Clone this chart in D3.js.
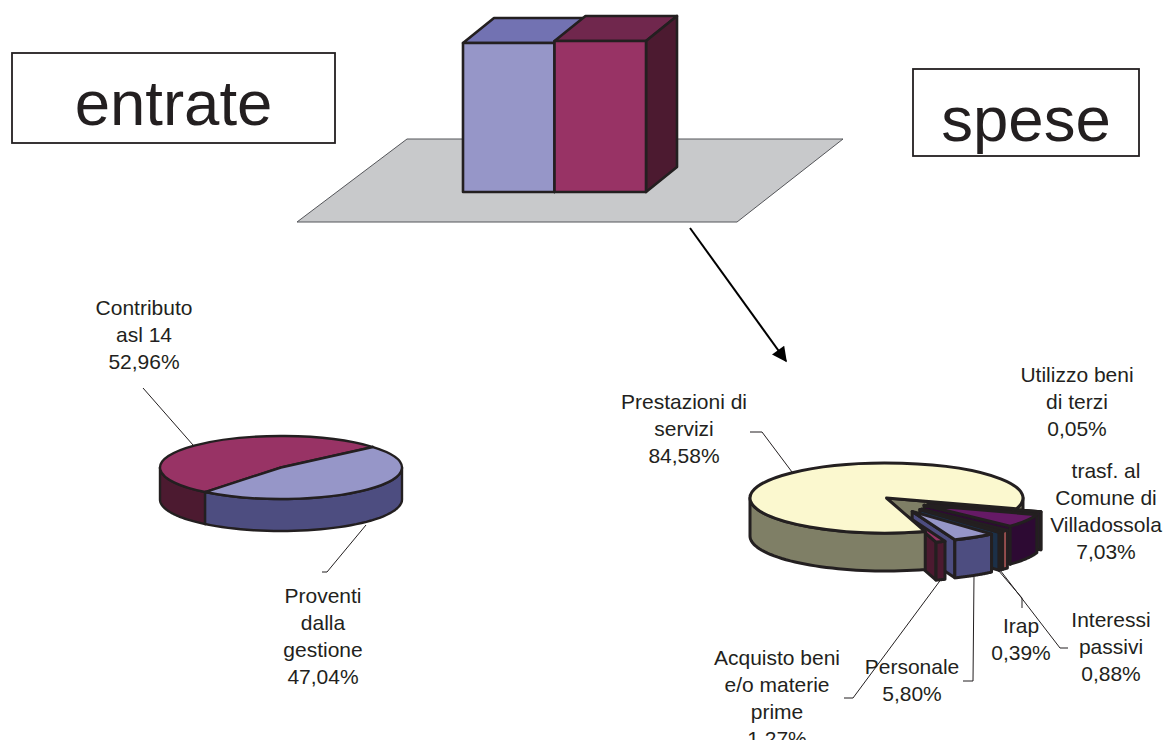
<!DOCTYPE html>
<html>
<head>
<meta charset="utf-8">
<script src="https://cdn.jsdelivr.net/npm/d3@7"></script>
<style>
  html, body { margin: 0; padding: 0; background: #fff; overflow: hidden; }
  text { font-family: "Liberation Sans", Arial, sans-serif; fill: #231f20; }
</style>
</head>
<body>
<div id="chart"></div>
<script>
// data
const barNames = ["entrate", "spese"];
const barValues = [98.7, 100];

const entrateNames = ["Proventi dalla gestione", "Contributo asl 14"];
const entrateValues = [47.04, 52.96];

const speseNames = ["Utilizzo beni di terzi", "trasf. al Comune di Villadossola", "Interessi passivi", "Irap", "Personale", "Acquisto beni e/o materie prime", "Prestazioni di servizi"];
const speseValues = [0.05, 7.03, 0.88, 0.39, 5.80, 1.27, 84.58];

// colours: [top, side]
const entrateColors = [["#9696c8", "#4d4d80"], ["#983365", "#4c1a30"]];
const speseColors = [["#661a66", "#2a1a2a"], ["#661a66", "#2d0a33"], ["#e07a7a", "#a85555"], ["#2a5a80", "#1c3048"], ["#9696c8", "#4d4d80"], ["#983365", "#4c1a30"], ["#fbf8cf", "#7f7f66"]];

const INK = "#231f20";
const rad = d => d * Math.PI / 180;
const pct = d3.formatLocale({ decimal: ",", thousands: ".", grouping: [3], currency: ["", ""] }).format(".2f");

const svg = d3.select("#chart").append("svg")
  .attr("width", 1173)
  .attr("height", 740);

svg.append("defs").append("marker")
  .attr("id", "head")
  .attr("viewBox", "0 0 10 10")
  .attr("refX", 9).attr("refY", 5)
  .attr("markerUnits", "userSpaceOnUse")
  .attr("markerWidth", 17).attr("markerHeight", 15)
  .attr("orient", "auto")
  .append("path").attr("d", "M0,0L10,5L0,10Z").attr("fill", "#000");

// ---- 3d bars on the grey floor
svg.append("polygon")
  .attr("points", "297,222 737,222 843,139 407,139")
  .attr("fill", "#c8c9cb")
  .attr("stroke", "#55565a")
  .attr("stroke-width", 1);

const xBar = d3.scaleBand().domain(barNames).range([463, 646]);
const yBar = d3.scaleLinear().domain([0, 100]).range([192, 41]);
const barDx = 31, barDy = -25;
const barTones = [["#9696c8", "#7272b2", "#4d4d80"], ["#983365", "#70274d", "#4c1a30"]];

const bars = svg.selectAll("g.bar")
  .data(barNames.map((n, i) => ({ name: n, value: barValues[i], tone: barTones[i] })))
  .join("g")
  .attr("class", "bar")
  .attr("stroke", INK)
  .attr("stroke-width", 2.6)
  .attr("stroke-linejoin", "round");

bars.append("polygon") // roof
  .attr("fill", d => d.tone[1])
  .attr("points", d => {
    const x0 = xBar(d.name), x1 = x0 + xBar.bandwidth(), y = yBar(d.value);
    return [[x0, y], [x0 + barDx, y + barDy], [x1 + barDx, y + barDy], [x1, y]].join(" ");
  });
bars.append("polygon") // right wall
  .attr("fill", d => d.tone[2])
  .attr("points", d => {
    const x1 = xBar(d.name) + xBar.bandwidth(), y = yBar(d.value), y0 = yBar(0);
    return [[x1, y], [x1 + barDx, y + barDy], [x1 + barDx, y0 + barDy], [x1, y0]].join(" ");
  });
bars.append("rect")
  .attr("x", d => xBar(d.name))
  .attr("y", d => yBar(d.value))
  .attr("width", xBar.bandwidth())
  .attr("height", d => yBar(0) - yBar(d.value))
  .attr("fill", d => d.tone[0]);

// ---- title boxes
const boxes = [
  { text: "entrate", x: 12, y: 53, w: 323, h: 90, base: 125 },
  { text: "spese", x: 913, y: 69, w: 226, h: 87, base: 141 }
];
boxes.forEach(b => {
  svg.append("rect")
    .attr("x", b.x).attr("y", b.y).attr("width", b.w).attr("height", b.h)
    .attr("fill", "#fff").attr("stroke", INK).attr("stroke-width", 1.8);
  svg.append("text")
    .attr("x", b.x + b.w / 2).attr("y", b.base)
    .attr("text-anchor", "middle")
    .attr("font-size", 63.5)
    .text(b.text);
});

// ---- arrow between the bars and the pie
svg.append("line")
  .attr("x1", 690).attr("y1", 228).attr("x2", 786).attr("y2", 361)
  .attr("stroke", "#000").attr("stroke-width", 2)
  .attr("marker-end", "url(#head)");

// ---- 3d pies
function drawPie(o) {
  const arcs = d3.pie().sort(null)
    .startAngle(rad(o.start)).endAngle(rad(o.start) + 2 * Math.PI)(o.values);
  const root = svg.append("g").attr("class", "pie");
  const line = d3.line();

  // steps: [slice index, parts to draw]
  o.steps.forEach(([i, parts]) => {
    const a = arcs[i];
    const exploded = o.explode && o.explode[i];
    const mid = (a.startAngle + a.endAngle) / 2;
    const cx = o.cx + (exploded ? Math.sin(mid) * o.rx * exploded : 0);
    const cy = o.cy + (exploded ? -Math.cos(mid) * o.ry * exploded * o.explodeY : 0);
    const k = exploded ? o.shrink : 1;
    const rx = o.rx * k, ry = o.ry * k;
    const pt = (t, dy = 0) => [cx + Math.sin(t) * rx, cy - Math.cos(t) * ry + dy];
    const g = root.append("g")
      .attr("stroke", INK).attr("stroke-width", o.stroke).attr("stroke-linejoin", "round");

    // outer rim between two angles, only the front of the ellipse shows
    const rim = (from, to) => {
      const t0 = Math.max(a.startAngle, from), t1 = Math.min(a.endAngle, to);
      if (t1 <= t0) return;
      const ts = d3.range(0, 41).map(n => t0 + (t1 - t0) * n / 40);
      const band = ts.map(t => pt(t)).concat(ts.slice().reverse().map(t => pt(t, o.depth)));
      g.append("path").attr("fill", o.colors[i][1]).attr("d", line(band) + "Z");
    };

    if (parts.includes("wall")) {
      // cut walls that face the viewer
      const wall = t => g.append("path")
        .attr("fill", o.colors[i][1])
        .attr("d", line([[cx, cy], pt(t), pt(t, o.depth), [cx, cy + o.depth]]) + "Z");
      if (Math.sin(a.startAngle) < 0) wall(a.startAngle);
      if (Math.sin(a.endAngle) > 0) wall(a.endAngle);
      // rim of a slice that wraps past the top and comes round to the front again
      rim(2.5 * Math.PI, 3.5 * Math.PI);
    }

    if (parts.includes("face")) {
      rim(Math.PI / 2, 1.5 * Math.PI);
      // top face, d3.arc squashed into an ellipse
      g.append("path")
        .attr("transform", `translate(${cx},${cy}) scale(1,${ry / rx})`)
        .attr("vector-effect", "non-scaling-stroke")
        .attr("fill", o.colors[i][0])
        .attr("d", d3.arc().innerRadius(0).outerRadius(rx)(a));
    }
  });
}

const both = ["wall", "face"];

drawPie({
  values: entrateValues, colors: entrateColors,
  steps: [[1, both], [0, both]],
  cx: 281, cy: 467.5, rx: 121, ry: 31.5, depth: 32, start: 49.5, stroke: 2.4
});

// the big slice's wall goes behind the pulled out slices, its top and rim in front of them
drawPie({
  values: speseValues, colors: speseColors,
  steps: [[6, ["wall"]], [0, both], [1, both], [2, both], [3, both], [4, both], [5, both], [6, ["face"]]],
  cx: 886.5, cy: 498, rx: 136.5, ry: 35, depth: 38, start: 108, stroke: 3,
  explode: [0.32, 0.32, 0.36, 0.36, 0.36, 0.36, 0], explodeY: 1.25, shrink: 0.87
});

// ---- leader lines
const leaders = [
  [[143, 388], [193, 445]],
  [[366, 525], [327, 572], [322, 572]],
  [[750, 432], [762, 432], [792, 472]],
  [[942, 578], [853, 698], [844, 698]],
  [[974, 575], [973, 681], [963, 681]],
  [[998, 570], [1022, 598], [1022, 608]],
  [[1000, 570], [1060, 648], [1068, 648]]
];
svg.selectAll("path.leader")
  .data(leaders)
  .join("path")
  .attr("class", "leader")
  .attr("fill", "none")
  .attr("stroke", INK)
  .attr("stroke-width", 1)
  .attr("d", d3.line());

// ---- labels, lines broken as in the picture
const pieLabels = [
  { lines: ["Contributo", "asl 14"], value: entrateValues[1], cx: 144, y: 315 },
  { lines: ["Proventi", "dalla", "gestione"], value: entrateValues[0], cx: 323, y: 603 },
  { lines: ["Prestazioni di", "servizi"], value: speseValues[6], cx: 684, y: 409 },
  { lines: ["Utilizzo beni", "di terzi"], value: speseValues[0], cx: 1077, y: 382 },
  { lines: ["trasf. al", "Comune di", "Villadossola"], value: speseValues[1], cx: 1106, y: 478 },
  { lines: ["Interessi", "passivi"], value: speseValues[2], cx: 1111, y: 627 },
  { lines: ["Irap"], value: speseValues[3], cx: 1021, y: 633 },
  { lines: ["Personale"], value: speseValues[4], cx: 912, y: 674 },
  { lines: ["Acquisto beni", "e/o materie", "prime"], value: speseValues[5], cx: 777, y: 665 }
];
pieLabels.forEach(l => {
  const t = svg.append("text")
    .attr("text-anchor", "middle")
    .attr("font-size", 21)
    .attr("y", l.y);
  l.lines.concat(pct(l.value) + "%").forEach((s, i) => {
    t.append("tspan")
      .attr("x", l.cx)
      .attr("y", l.y + i * 27)
      .text(s);
  });
});
</script>
</body>
</html>
